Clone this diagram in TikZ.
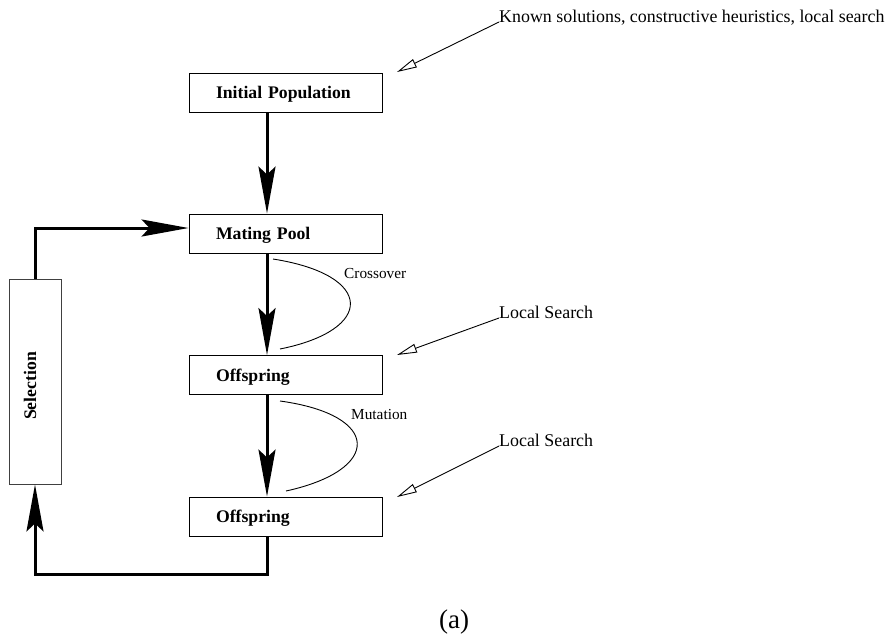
\documentclass[tikz,border=0pt]{standalone}
\usepackage{fontspec}
\setmainfont{Liberation Serif}
\usetikzlibrary{arrows.meta}
\begin{document}
\begin{tikzpicture}[x=1pt,y=-1pt,
  box/.style={draw, line width=0.9pt, minimum width=193pt, minimum height=39pt,
    text width=139pt, align=left, inner xsep=27pt, inner ysep=0pt,
    text height=12pt, text depth=0pt, font=\fontsize{17.7}{20}\selectfont\bfseries},
  selbox/.style={draw=black!75, line width=0.9pt, minimum width=52pt, minimum height=205pt,
    inner sep=0pt, font=\fontsize{17.7}{20}\selectfont\bfseries},
  flow/.style={line width=3pt, -{Stealth[length=47pt, width=17pt, inset=8pt]}},
  hint/.style={line width=0.9pt, -{Triangle[open, length=20pt, width=9pt, line width=0.9pt]}},
  note/.style={anchor=base west, inner sep=0pt, font=\fontsize{17.9}{20}\selectfont},
  oplabel/.style={anchor=base west, inner sep=0pt, font=\fontsize{15.3}{18}\selectfont},
  op/.style={line width=0.9pt}
]
\useasboundingbox (0,0) rectangle (888,635);

% boxes
\node (init) [box] at (285.5,92.5) {Initial Population};
\node (mate) [box] at (285.5,233.5) {Mating Pool};
\node (off1) [box] at (285.5,375) {Offspring};
\node (off2) [box] at (285.5,516.5) {Offspring};
\node (sel) [selbox] at (35,381.5) {\rotatebox{90}{Selection\hspace*{9pt}\rule[-10pt]{0pt}{10pt}}};

% main flow
\draw[flow] ([xshift=-18.5pt]init.south) -- ([xshift=-18.5pt]mate.north);
\draw[flow] ([xshift=-18.5pt]mate.south) -- ([xshift=-18.5pt]off1.north);
\draw[flow] ([xshift=-18.5pt]off1.south) -- ([xshift=-18.5pt]off2.north);
\draw[flow] ([xshift=-18.5pt]off2.south) -- ++(0,38) -| (sel.south);
\draw[flow] (sel.north) |- ([yshift=5.5pt]mate.west);

% operator curves
\coordinate (cxa) at (273,259);
\coordinate (cxb) at (280,349);
\draw[op] (cxa) .. controls (375,275) and (375,330) .. (cxb);
\node (cx) [oplabel] at (344,278) {Crossover};

\coordinate (mua) at (280,401);
\coordinate (mub) at (286,491);
\draw[op] (mua) .. controls (382,415) and (382,470) .. (mub);
\node (mu) [oplabel] at (351,419) {Mutation};

% hints
\node (known) [note] at (499,22) {Known solutions, constructive heuristics, local search};
\coordinate (kt) at (397,72);
\draw[hint] (known.base west) -- (kt);

\node (ls1) [note] at (499,318) {Local Search};
\coordinate (lt1) at (397,355);
\draw[hint] (ls1.base west) -- (lt1);

\node (ls2) [note] at (499,446) {Local Search};
\coordinate (lt2) at (397,497);
\draw[hint] (ls2.base west) -- (lt2);

% caption
\node (cap) [inner sep=0pt, font=\fontsize{27}{30}\selectfont] at (454,622) {(a)};
\end{tikzpicture}
\end{document}
